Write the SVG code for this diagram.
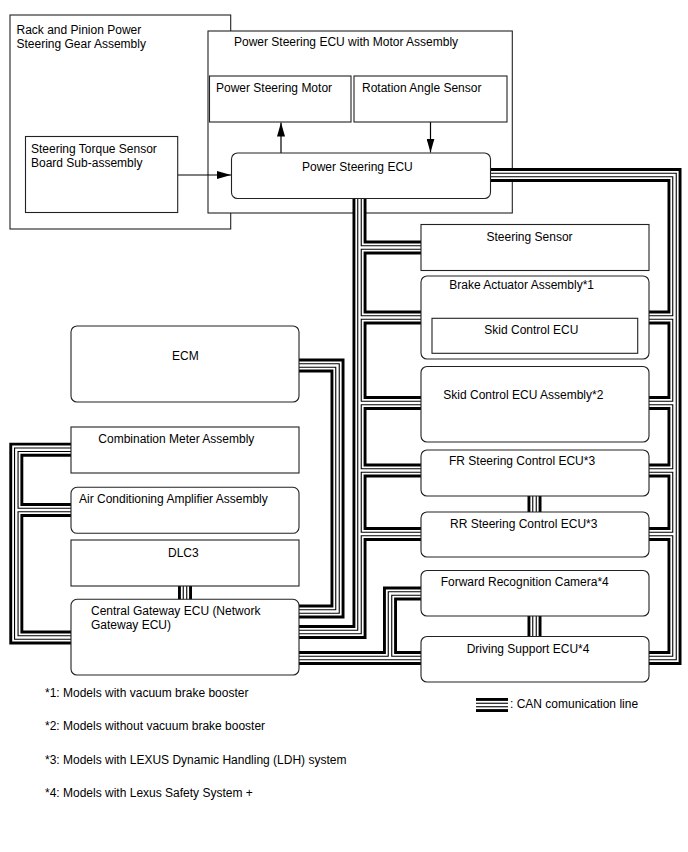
<svg xmlns="http://www.w3.org/2000/svg" width="688" height="852" viewBox="0 0 688 852">
<style>
.box{fill:#fff;stroke:#222;stroke-width:1.1}
.t{font-family:"Liberation Sans",Arial,sans-serif;font-size:12px;fill:#000}
.c1{fill:none;stroke:#000;stroke-width:14;stroke-linejoin:miter;stroke-linecap:butt}
.c2{fill:none;stroke:#fff;stroke-width:8.2;stroke-linejoin:miter;stroke-linecap:butt}
.c3{fill:none;stroke:#000;stroke-width:4.6;stroke-linejoin:miter;stroke-linecap:butt}
.c4{fill:none;stroke:#fff;stroke-width:2.4;stroke-linejoin:miter;stroke-linecap:butt}
.arr{fill:none;stroke:#000;stroke-width:1.2}
</style>
<defs>
<marker id="ah" markerUnits="userSpaceOnUse" markerWidth="14" markerHeight="8" refX="14" refY="4" orient="auto">
<path d="M0,0 L14,4 L0,8 z" fill="#000"/>
</marker>
<g id="canpaths">
<path d="M292 365.5H337.5V611.5H292"/>
<path d="M359.5 192V632H292"/>
<path d="M359.5 247.5H428"/>
<path d="M359.5 317.5H428"/>
<path d="M359.5 403H428"/>
<path d="M359.5 470.5H428"/>
<path d="M359.5 534H428"/>
<path d="M484 175H674.5V658H642"/>
<path d="M674.5 317.5H642"/>
<path d="M674.5 403H642"/>
<path d="M674.5 470.5H642"/>
<path d="M674.5 534H642"/>
<path d="M292 658H428"/>
<path d="M390 658V593.5H428"/>
<path d="M78 449.7H16.3V637.5H78"/>
<path d="M16.3 510H78"/>
<path d="M185 580V605"/>
<path d="M534.5 490V518"/>
<path d="M534.5 610V642"/>
</g>
<path id="legpath" d="M476 705H508"/>
</defs>

<g id="rack-pinion">
<rect class="box" x="10" y="15" width="220.7" height="214"/>
<text class="t" x="16.5" y="34">Rack and Pinion Power</text>
<text class="t" x="16.5" y="48">Steering Gear Assembly</text>
</g>
<g id="ps-ecu-motor-assy">
<rect class="box" x="208" y="31" width="304.3" height="182"/>
<text class="t" x="234" y="46">Power Steering ECU with Motor Assembly</text>
</g>

<g id="connectors">
<use href="#canpaths" class="c1"/>
<use href="#canpaths" class="c2"/>
<use href="#canpaths" class="c3"/>
<use href="#canpaths" class="c4"/>
<path class="arr" d="M178 175H231" marker-end="url(#ah)"/>
<path class="arr" d="M281 153V122.5" marker-end="url(#ah)"/>
<path class="arr" d="M430.5 122V152.5" marker-end="url(#ah)"/>
</g>

<g id="ps-motor">
<rect class="box" x="209.5" y="76" width="141.5" height="46"/>
<text class="t" x="216" y="91.5">Power Steering Motor</text>
</g>
<g id="rotation-angle-sensor">
<rect class="box" x="354" y="76" width="153" height="46"/>
<text class="t" x="362" y="91.5">Rotation Angle Sensor</text>
</g>
<g id="torque-sensor">
<rect class="box" x="25.5" y="136.5" width="152.2" height="76"/>
<text class="t" x="31" y="152.6">Steering Torque Sensor</text>
<text class="t" x="31" y="167">Board Sub-assembly</text>
</g>
<g id="ps-ecu">
<rect class="box" x="231.5" y="153" width="259" height="45.5" rx="6"/>
<text class="t" x="302" y="171">Power Steering ECU</text>
</g>

<g id="steering-sensor">
<rect class="box" x="421" y="224.5" width="228" height="46"/>
<text class="t" x="486.5" y="241.3">Steering Sensor</text>
</g>
<g id="brake-actuator">
<rect class="box" x="421" y="276" width="228" height="83" rx="6"/>
<text class="t" x="449.3" y="289.3">Brake Actuator Assembly*1</text>
</g>
<g id="skid-control-ecu">
<rect class="box" x="432" y="318.3" width="205.7" height="35"/>
<text class="t" x="484.3" y="333.6">Skid Control ECU</text>
</g>
<g id="skid-control-assy">
<rect class="box" x="421" y="366.5" width="228" height="75.5" rx="6"/>
<text class="t" x="443.3" y="398.6">Skid Control ECU Assembly*2</text>
</g>
<g id="fr-steering">
<rect class="box" x="421" y="450" width="228" height="46" rx="6"/>
<text class="t" x="449" y="464.6">FR Steering Control ECU*3</text>
</g>
<g id="rr-steering">
<rect class="box" x="421" y="512" width="228" height="45" rx="6"/>
<text class="t" x="450" y="527.6">RR Steering Control ECU*3</text>
</g>
<g id="forward-camera">
<rect class="box" x="421" y="570.5" width="228" height="45.5" rx="6"/>
<text class="t" x="440.7" y="586.3">Forward Recognition Camera*4</text>
</g>
<g id="driving-support">
<rect class="box" x="421" y="636.5" width="228" height="45.5" rx="6"/>
<text class="t" x="466.7" y="653">Driving Support ECU*4</text>
</g>

<g id="ecm">
<rect class="box" x="71" y="326" width="228" height="76" rx="6"/>
<text class="t" x="172" y="360">ECM</text>
</g>
<g id="combination-meter">
<rect class="box" x="71" y="427" width="228" height="46"/>
<text class="t" x="98.3" y="443">Combination Meter Assembly</text>
</g>
<g id="ac-amplifier">
<rect class="box" x="71" y="487.3" width="228" height="46" rx="6"/>
<text class="t" x="79" y="502.6">Air Conditioning Amplifier Assembly</text>
</g>
<g id="dlc3">
<rect class="box" x="71" y="540" width="228" height="46"/>
<text class="t" x="168" y="557">DLC3</text>
</g>
<g id="central-gateway">
<rect class="box" x="71" y="599.3" width="228" height="75.7" rx="6"/>
<text class="t" x="91" y="615.3">Central Gateway ECU (Network</text>
<text class="t" x="91" y="629.3">Gateway ECU)</text>
</g>

<g id="legend">
<use href="#legpath" class="c1"/>
<use href="#legpath" class="c2"/>
<use href="#legpath" class="c3"/>
<use href="#legpath" class="c4"/>
<text class="t" x="510" y="708">: CAN comunication line</text>
</g>

<g id="footnotes">
<text class="t" x="45" y="697">*1: Models with vacuum brake booster</text>
<text class="t" x="45" y="730">*2: Models without vacuum brake booster</text>
<text class="t" x="45" y="764">*3: Models with LEXUS Dynamic Handling (LDH) system</text>
<text class="t" x="45" y="797">*4: Models with Lexus Safety System +</text>
</g>
</svg>
